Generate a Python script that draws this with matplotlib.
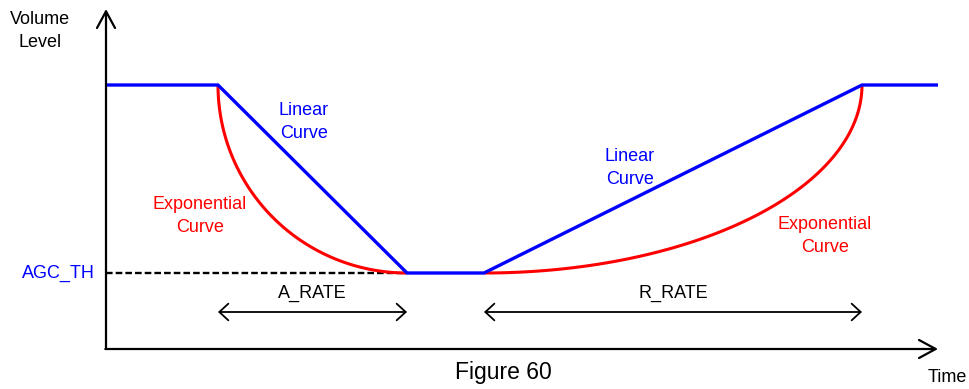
import numpy as np
import matplotlib.pyplot as plt
from matplotlib.patches import FancyArrowPatch

plt.rcParams['font.family'] = ['Liberation Sans', 'DejaVu Sans']

# breakpoints of the volume curve (time units from the origin)
t_start = 0
t_attack = 112      # attack begins
t_low = 301         # reaches AGC_TH
t_release = 378     # release begins
t_high = 756        # back to full level
t_end = 832
level_high = 264
level_th = 76

lin_t = [t_start, t_attack, t_low, t_release, t_high, t_end]
lin_v = [level_high, level_high, level_th, level_th, level_high, level_high]

fig = plt.figure(figsize=(9.7, 3.89), dpi=100)
ax = fig.add_axes([0, 0, 1, 1])
ax.set_xlim(-106, 864)
ax.set_ylim(-40, 349)
ax.axis('off')

BLUE = '#0000ff'
RED = '#ff0000'

# threshold line
ax.plot([t_start, t_low], [level_th, level_th], color='black', lw=1.7,
        linestyle=(0, (2.8, 1.3)), zorder=2)

# exponential curves (quarter ellipses between the breakpoints)
s = np.linspace(0, np.pi / 2, 100)
ax.plot(t_low - (t_low - t_attack) * np.cos(s),
        level_high - (level_high - level_th) * np.sin(s),
        color=RED, lw=2.2, zorder=3, solid_capstyle='butt')
ax.plot(t_release + (t_high - t_release) * np.sin(s),
        level_th + (level_high - level_th) * (1 - np.cos(s)),
        color=RED, lw=2.2, zorder=3, solid_capstyle='butt')

# linear curve
ax.plot(lin_t, lin_v, color=BLUE, lw=2.4, zorder=4, solid_capstyle='butt')

# axes with open arrow heads
axis_style = '->,head_length=1.2,head_width=0.65'
ax.add_patch(FancyArrowPatch((0, 0), (0, 340), arrowstyle=axis_style,
                             mutation_scale=10, lw=1.6, color='black',
                             shrinkA=0, shrinkB=0, zorder=5))
ax.add_patch(FancyArrowPatch((-0.7, 0), (t_end, 0), arrowstyle=axis_style,
                             mutation_scale=10, lw=1.6, color='black',
                             shrinkA=0, shrinkB=0, zorder=5))

# rate arrows
rate_y = 37
rate_style = '<->,head_length=0.65,head_width=0.6'
for a, b in [(t_attack, t_low), (t_release, t_high)]:
    ax.add_patch(FancyArrowPatch((a, rate_y), (b, rate_y), arrowstyle=rate_style,
                                 mutation_scale=10, lw=1.3, color='black',
                                 shrinkA=0, shrinkB=0))

fs = 13
ls = 1.45
ax.text(-66, 318, 'Volume\nLevel', ha='center', va='center', fontsize=fs,
        linespacing=ls)
ax.text(-48, level_th, 'AGC_TH', ha='center', va='center', fontsize=fs, color=BLUE)
ax.text(198, 227, 'Linear\nCurve', ha='center', va='center', fontsize=fs,
        color=BLUE, linespacing=ls)
ax.text(94, 133, 'Exponential\nCurve', ha='center', va='center', fontsize=fs,
        color=RED, linespacing=ls)
ax.text(524, 181, 'Linear\nCurve', ha='center', va='center', fontsize=fs,
        color=BLUE, linespacing=ls)
ax.text(719, 113, 'Exponential\nCurve', ha='center', va='center', fontsize=fs,
        color=RED, linespacing=ls)
ax.text((t_attack + t_low) / 2, 56, 'A_RATE', ha='center', va='center', fontsize=fs)
ax.text((t_release + t_high) / 2, 56, 'R_RATE', ha='center', va='center', fontsize=fs)
ax.text(397, -23, 'Figure 60', ha='center', va='center', fontsize=16.5)
ax.text(841, -28, 'Time', ha='center', va='center', fontsize=fs)

fig.savefig('out.png', dpi=100)
